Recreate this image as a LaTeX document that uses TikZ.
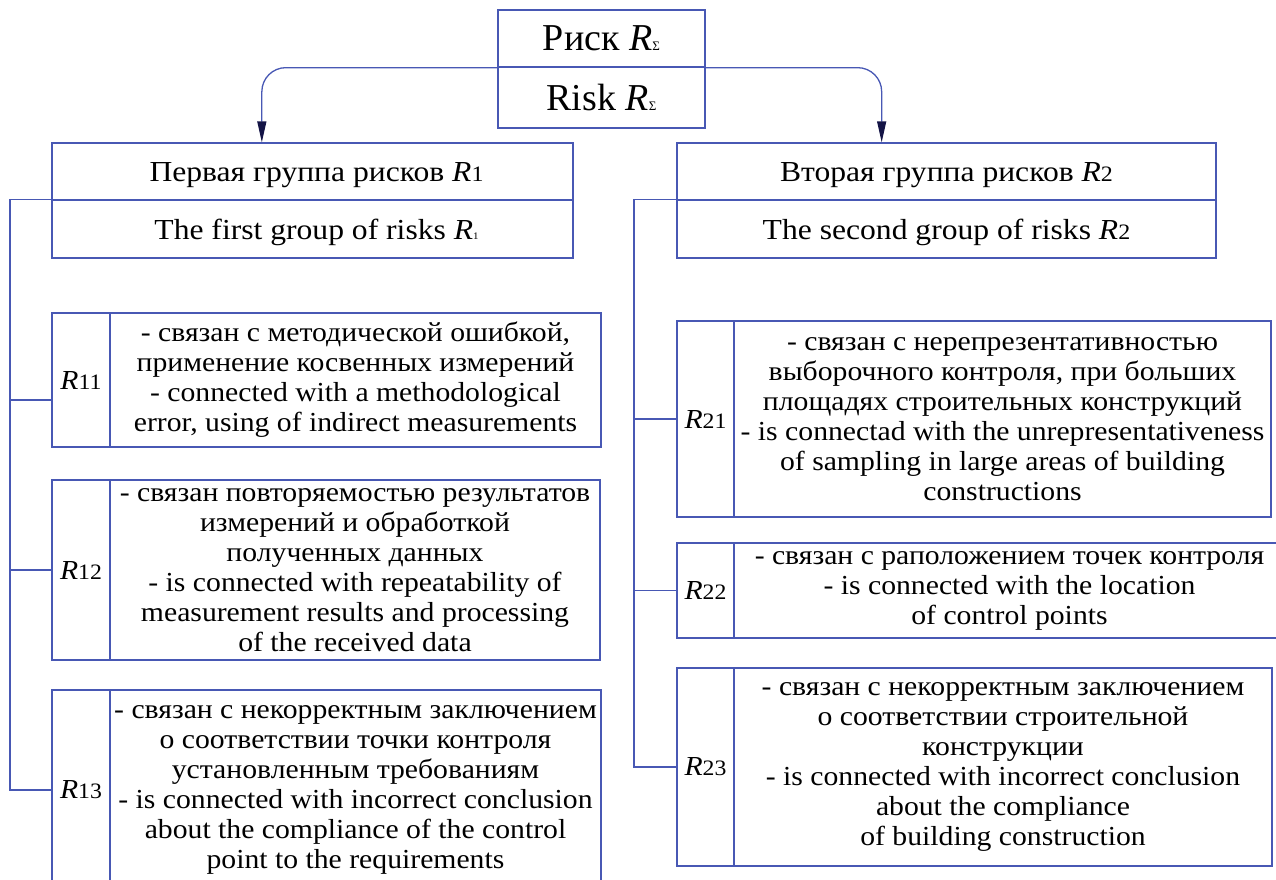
\documentclass[tikz,border=0pt]{standalone}
\usepackage{fontspec}
\setmainfont{Liberation Serif}
\newfontfamily\bodyf[FakeStretch=1.08]{Liberation Serif}
\newfontfamily\grpf[FakeStretch=1.09]{Liberation Serif}
\newfontfamily\topf[FakeStretch=1.0]{Liberation Serif}
\usetikzlibrary{arrows.meta,calc}
\definecolor{linec}{RGB}{72,88,180}
\definecolor{tipc}{RGB}{20,20,70}
\tikzset{
  cell/.style={draw=linec, line width=1.3pt, inner sep=0pt, align=center, text=black},
  bodytext/.style={font=\bodyf\fontsize{27.5}{30}\selectfont},
  grptext/.style={font=\grpf\fontsize{29}{30}\selectfont, text depth=0pt},
  toptext/.style={font=\topf\fontsize{38}{38}\selectfont},
  conn/.style={draw=linec, line width=1.3pt},
  arr/.style={conn, rounded corners=24pt, -{Triangle[length=21pt,width=9pt,color=tipc,fill=tipc]}},
}
\newcommand{\Rsub}[2]{\textit{R}{\fontsize{#2}{#2}\selectfont #1}}
\begin{document}
\begin{tikzpicture}[x=1pt,y=-1pt]
\clip (0,0) rectangle (1276,879);
% top
\node[cell, minimum width=207pt, minimum height=57pt, toptext] (topA) at (601.5,38.5) {Риск \Rsub{Σ}{13}};
\node[cell, minimum width=207pt, minimum height=61pt, toptext] (topB) at (601.5,97.5) {Risk \Rsub{Σ}{13}};
% groups
\node[cell, minimum width=521pt, minimum height=57pt, grptext] (g1a) at (312.5,171.5) {\hspace*{8pt}Первая группа рисков \Rsub{1}{22}};
\node[cell, minimum width=521pt, minimum height=58pt, grptext] (g1b) at (312.5,229) {\hspace*{8pt}The first group of risks \Rsub{1}{10}};
\node[cell, minimum width=539pt, minimum height=57pt, grptext] (g2a) at (946.5,171.5) {Вторая группа рисков \Rsub{2}{22}};
\node[cell, minimum width=539pt, minimum height=58pt, grptext] (g2b) at (946.5,229) {The second group of risks \Rsub{2}{22}};
% left column
\node[cell, minimum width=58pt, minimum height=134pt, bodytext] (r11l) at (81,380) {\Rsub{11}{22}};
\node[cell, minimum width=491pt, minimum height=134pt, bodytext] (r11t) at (355.5,380) {- связан с методической ошибкой,\\применение косвенных измерений\\- connected with a methodological\\error, using of indirect measurements};
\node[cell, minimum width=58pt, minimum height=180pt, bodytext] (r12l) at (81,570) {\Rsub{12}{22}};
\node[cell, minimum width=490pt, minimum height=180pt, bodytext] (r12t) at (355,570) {- связан повторяемостью результатов\\измерений и обработкой\\полученных данных\\- is connected with repeatability of\\measurement results and processing\\of the received data};
\node[cell, minimum width=58pt, minimum height=200pt, bodytext] (r13l) at (81,790) {\Rsub{13}{22}};
\node[cell, minimum width=491pt, minimum height=200pt, bodytext] (r13t) at (355.5,790) {- связан с некорректным заключением\\о соответствии точки контроля\\установленным требованиям\\- is connected with incorrect conclusion\\about the compliance of the control\\point to the requirements};
% right column
\node[cell, minimum width=57pt, minimum height=196pt, bodytext] (r21l) at (705.5,419) {\Rsub{21}{22}};
\node[cell, minimum width=537pt, minimum height=196pt, bodytext] (r21t) at (1002.5,419) {- связан с нерепрезентативностью\\выборочного контроля, при больших\\площадях строительных конструкций\\- is connectad with the unrepresentativeness\\of sampling in large areas of building\\constructions};
\node[cell, minimum width=57pt, minimum height=95pt, bodytext] (r22l) at (705.5,590.5) {\Rsub{22}{22}};
\node[cell, minimum width=551pt, minimum height=95pt, bodytext] (r22t) at (1009.5,590.5) {- связан с раположением точек контроля\\- is connected with the location\\of control points};
\node[cell, minimum width=57pt, minimum height=198pt, bodytext] (r23l) at (705.5,767) {\Rsub{23}{22}};
\node[cell, minimum width=538pt, minimum height=198pt, bodytext] (r23t) at (1003,767) {- связан с некорректным заключением\\о соответствии строительной\\конструкции\\- is connected with incorrect conclusion\\about the compliance\\of building construction};
% arrows from top
\coordinate (g1in) at ($(g1a.north west)!0.403!(g1a.north east)$);
\coordinate (g2in) at ($(g2a.north west)!0.38!(g2a.north east)$);
\draw[arr] (topA.south west) -| (g1in);
\draw[arr] (topA.south east) -| (g2in);
% left bus
\coordinate (busL) at (10,790);
\draw[conn] (g1b.north west) -| (busL) -- (r13l.west);
\coordinate (t11) at (10,400);
\draw[conn] (t11) -- (t11 -| r11l.west);
\draw[conn] (r12l.west -| busL) -- (r12l.west);
% right bus
\coordinate (busR) at (634,767);
\draw[conn] (g2b.north west) -| (busR) -- (r23l.west);
\draw[conn] (r21l.west -| busR) -- (r21l.west);
\draw[conn] (r22l.west -| busR) -- (r22l.west);
\end{tikzpicture}
\end{document}
